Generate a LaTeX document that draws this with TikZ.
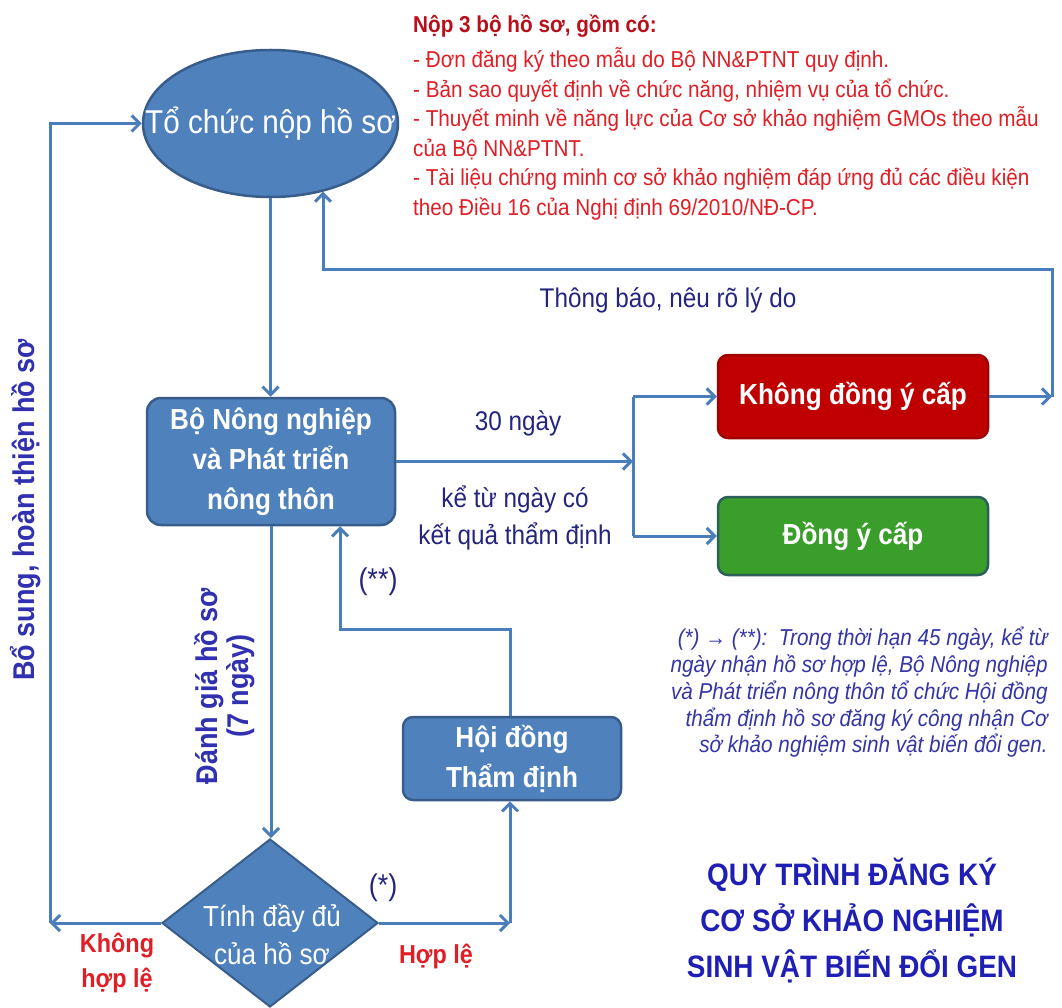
\documentclass[tikz,border=0pt]{standalone}
\usepackage{fontspec}
\setmainfont{Liberation Sans}[FakeStretch=0.9]
\usetikzlibrary{shapes.geometric,arrows.meta}
\definecolor{lineblue}{HTML}{4A7EBB}
\definecolor{boxblue}{HTML}{4F81BD}
\definecolor{boxborder}{HTML}{385D8A}
\definecolor{redfill}{HTML}{C00000}
\definecolor{redborder}{HTML}{A00000}
\definecolor{greenfill}{HTML}{3A9E2A}
\definecolor{greenborder}{HTML}{2E5E5A}
\definecolor{labelblue}{HTML}{25257F}
\definecolor{rotblue}{HTML}{3030B0}
\definecolor{redtext}{HTML}{E01E25}
\definecolor{redtitle}{HTML}{B8101A}
\definecolor{noteblue}{HTML}{3535A5}
\definecolor{titleblue}{HTML}{1F1FB5}
\tikzset{
  conn/.style={line width=3pt, draw=lineblue},
  arr/.style={conn, -{Straight Barb[length=8pt,width=16pt]}},
  bluebox/.style={rectangle, rounded corners=14pt, fill=boxblue, draw=boxborder, line width=2.5pt, text=white, font=\bfseries\fontsize{29}{40}\selectfont, align=center, inner sep=0pt},
  redbox/.style={bluebox, rounded corners=10pt, fill=redfill, draw=redborder},
  greenbox/.style={bluebox, rounded corners=10pt, fill=greenfill, draw=greenborder},
  lbl/.style={text=labelblue, font=\fontsize{27}{37}\selectfont, align=center, inner sep=0pt},
  rotlbl/.style={text=rotblue, font=\bfseries\fontsize{30}{31}\selectfont, align=center, inner sep=0pt, rotate=90},
  redlbl/.style={text=redtext, font=\bfseries\fontsize{26}{35}\selectfont, align=center, inner sep=0pt},
  redline/.style={text=redtext, font=\fontsize{23}{29}\selectfont, anchor=base west, inner sep=0pt},
  noteline/.style={text=noteblue, font=\itshape\fontsize{23}{27}\selectfont, anchor=base east, inner sep=0pt},
  titleline/.style={text=titleblue, font=\bfseries\fontsize{31}{46}\selectfont, anchor=base, inner sep=0pt},
}
\begin{document}
\begin{tikzpicture}[x=1pt,y=-1pt]
\useasboundingbox (0,0) rectangle (1062,1008);
\fill[white] (0,0) rectangle (1062,1008);

% main shapes
\node[ellipse, fill=boxblue, draw=boxborder, line width=2.5pt, minimum width=255pt, minimum height=147pt, inner sep=0pt] (ell) at (270.5,123.5) {};
\node[text=white, font=\fontsize{33}{40}\selectfont, inner sep=0pt] (ellt) at (ell.center) {Tổ chức nộp hồ sơ};
\node[bluebox, minimum width=248pt, minimum height=127pt] (bo) at (271,461.5) {Bộ Nông nghiệp\\và Phát triển\\nông thôn};
\node[redbox, minimum width=270pt, minimum height=83pt] (kh) at (853,396.5) {Không đồng ý cấp};
\node[greenbox, minimum width=270pt, minimum height=78pt] (dy) at (853,536) {Đồng ý cấp};
\node[bluebox, rounded corners=10pt, minimum width=218pt, minimum height=83pt] (hd) at (512,758.5) {Hội đồng\\Thẩm định};
\node[diamond, fill=boxblue, draw=boxborder, line width=2pt, minimum width=216pt, minimum height=168pt, inner sep=0pt] (dia) at (270,923) {};
\node[text=white, font=\fontsize{29}{38}\selectfont, align=center, inner sep=0pt] (diat) at (272,934) {Tính đầy đủ\\của hồ sơ};

% connector corners
\coordinate (L1) at (50,923);
\coordinate (L2) at (50,123.5);
\coordinate (R1) at (510,923);
\coordinate (H1) at (510,629);
\coordinate (H2) at (340,629);
\coordinate (J) at (633,461.5);
\coordinate (J1) at (633,396.5);
\coordinate (J2) at (633,536);
\coordinate (K1) at (1052,396.5);
\coordinate (K2) at (1052,269);
\coordinate (K3) at (323,269);

% connectors
\draw[arr] (ell.south) -- (ell.south |- bo.north);
\draw[arr] (bo.south) -- (bo.south |- dia.north);
\draw[arr] (dia.west) -- (L1);
\draw[arr] (L1) -- (L2) -- (ell.west);
\draw[arr] (dia.east) -- (R1);
\draw[arr] (R1) -- (R1 |- hd.south);
\draw[arr] (R1 |- hd.north) -- (H1) -- (H2) -- (H2 |- bo.south);
\draw[arr] (bo.east) -- (J);
\draw[conn] (J1) -- (J2);
\draw[arr] (J1) -- (kh.west);
\draw[arr] (J2) -- (dy.west);
\draw[arr] (kh.east) -- (K1);
\draw[arr] (K1) -- (K2) -- (K3) -- (K3 |- ell.-52);

% labels
\node[rotlbl] (lb1) at (26,510) {Bổ sung, hoàn thiện hồ sơ};
\node[rotlbl] (lb2) at (225,686) {Đánh giá hồ sơ\\(7 ngày)};
\node[lbl] (lb3) at (518,423) {30 ngày};
\node[lbl] (lb4) at (515,518) {kể từ ngày có\\kết quả thẩm định};
\node[lbl] (lb5) at (668,300) {Thông báo, nêu rõ lý do};
\node[lbl, font=\fontsize{30}{36}\selectfont] (lb6) at (378,582) {(**)};
\node[lbl, font=\fontsize{30}{36}\selectfont] (lb7) at (383,888) {(*)};
\node[redlbl] (lb8) at (436,956) {Hợp lệ};
\node[redlbl] (lb9) at (117,963) {Không\\hợp lệ};

% red requirements block
\node[redline, text=redtitle, font=\bfseries\fontsize{23}{29}\selectfont] (r1) at (413,33) {Nộp 3 bộ hồ sơ, gồm có:};
\node[redline] (r2) at (413,68) {- Đơn đăng ký theo mẫu do Bộ NN\&PTNT quy định.};
\node[redline] (r3) at (413,97.5) {- Bản sao quyết định về chức năng, nhiệm vụ của tổ chức.};
\node[redline] (r4) at (413,127) {- Thuyết minh về năng lực của Cơ sở khảo nghiệm GMOs theo mẫu};
\node[redline] (r5) at (413,156.5) {của Bộ NN\&PTNT.};
\node[redline] (r6) at (413,186) {- Tài liệu chứng minh cơ sở khảo nghiệm đáp ứng đủ các điều kiện};
\node[redline] (r7) at (413,215.5) {theo Điều 16 của Nghị định 69/2010/NĐ-CP.};

% note
\node[noteline] (n1) at (1048,645) {(*) → (**):\ \ Trong thời hạn 45 ngày, kể từ};
\node[noteline] (n2) at (1048,672) {ngày nhận hồ sơ hợp lệ, Bộ Nông nghiệp};
\node[noteline] (n3) at (1048,699) {và Phát triển nông thôn tổ chức Hội đồng};
\node[noteline] (n4) at (1048,726) {thẩm định hồ sơ đăng ký công nhận Cơ};
\node[noteline] (n5) at (1048,752) {sở khảo nghiệm sinh vật biến đổi gen.};

% title
\node[titleline] (t1) at (852,885) {QUY TRÌNH ĐĂNG KÝ};
\node[titleline] (t2) at (852,931) {CƠ SỞ KHẢO NGHIỆM};
\node[titleline] (t3) at (852,977) {SINH VẬT BIẾN ĐỔI GEN};
\end{tikzpicture}
\end{document}
